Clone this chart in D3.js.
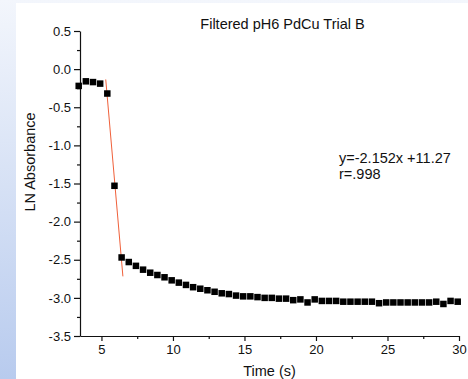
<!DOCTYPE html>
<html>
<head>
<meta charset="utf-8">
<script src="https://cdn.jsdelivr.net/npm/d3@7"></script>
<style>
  html, body { margin: 0; padding: 0; }
  body { width: 468px; height: 379px; overflow: hidden; }
  text { font-family: "Liberation Sans", Arial, sans-serif; fill: #111; }
</style>
</head>
<body>
<main></main>
<script>
// time (s) of each reading
const times = [3.41, 3.91, 4.41, 4.91, 5.41, 5.91, 6.41, 6.91, 7.41, 7.91,
  8.41, 8.91, 9.41, 9.91, 10.41, 10.91, 11.41, 11.91, 12.41, 12.91,
  13.41, 13.91, 14.41, 14.91, 15.41, 15.91, 16.41, 16.91, 17.41, 17.91,
  18.41, 18.91, 19.41, 19.91, 20.41, 20.91, 21.41, 21.91, 22.41, 22.91,
  23.41, 23.91, 24.41, 24.91, 25.41, 25.91, 26.41, 26.91, 27.41, 27.91,
  28.41, 28.91, 29.41, 29.91];

// ln absorbance
const lnAbs = [-0.22, -0.16, -0.17, -0.19, -0.32, -1.53, -2.47, -2.53, -2.58, -2.63,
  -2.67, -2.70, -2.73, -2.77, -2.80, -2.83, -2.86, -2.88, -2.90, -2.92,
  -2.94, -2.95, -2.97, -2.98, -2.98, -2.99, -3.00, -3.00, -3.01, -3.01,
  -3.03, -3.02, -3.06, -3.02, -3.04, -3.04, -3.04, -3.05, -3.05, -3.05,
  -3.05, -3.05, -3.07, -3.06, -3.06, -3.06, -3.06, -3.06, -3.06, -3.06,
  -3.05, -3.08, -3.04, -3.05];

// linear fit over the drop
const fitSlope = -2.152, fitIntercept = 11.27;
const fitRange = [5.3, 6.5];

const xTicks = [5, 10, 15, 20, 25, 30];
const xMinor = [7.5, 12.5, 17.5, 22.5, 27.5];
const yTicks = [0.5, 0.0, -0.5, -1.0, -1.5, -2.0, -2.5, -3.0, -3.5];
const yMinor = [0.25, -0.25, -0.75, -1.25, -1.75, -2.25, -2.75, -3.25];

const w = 468, h = 379;

const svg = d3.select("main").append("svg")
  .attr("width", w)
  .attr("height", h)
  .style("display", "block");

// slide background
const grad = svg.append("defs").append("linearGradient")
  .attr("id", "bg")
  .attr("x1", 0).attr("y1", 0).attr("x2", 0).attr("y2", 1);
grad.append("stop").attr("offset", 0).attr("stop-color", "#f3f6fc");
grad.append("stop").attr("offset", 1).attr("stop-color", "#b8cbee");

svg.append("rect").attr("width", w).attr("height", h).attr("fill", "url(#bg)");
svg.append("rect").attr("x", 16).attr("y", 3)
  .attr("width", w - 16).attr("height", h - 3).attr("fill", "#fff");

const xScale = d3.scaleLinear().domain([3.5, 30]).range([80, 459]);
const yScale = d3.scaleLinear().domain([-3.5, 0.5]).range([336, 31]);

const fmt = (d) => d.toFixed(1);

// x axis
const xAxis = svg.append("g")
  .attr("transform", "translate(0,336)")
  .call(d3.axisBottom(xScale).tickValues(xTicks).tickSize(5).tickPadding(4).tickSizeOuter(0));
svg.append("g")
  .attr("transform", "translate(0,336)")
  .call(d3.axisBottom(xScale).tickValues(xMinor).tickSize(3).tickFormat("").tickSizeOuter(0))
  .select(".domain").remove();

// y axis
const yAxis = svg.append("g")
  .attr("transform", "translate(80,0)")
  .call(d3.axisLeft(yScale).tickValues(yTicks).tickFormat(fmt).tickSize(6).tickPadding(3).tickSizeOuter(0));
svg.append("g")
  .attr("transform", "translate(80,0)")
  .call(d3.axisLeft(yScale).tickValues(yMinor).tickSize(3).tickFormat("").tickSizeOuter(0))
  .select(".domain").remove();

svg.selectAll(".domain, .tick line")
  .attr("stroke", "#111")
  .attr("stroke-width", 1.2);
svg.selectAll(".tick text")
  .style("font-size", "13px")
  .style("font-family", "Liberation Sans, Arial, sans-serif")
  .attr("fill", "#111");

// fit line
svg.append("line")
  .attr("x1", xScale(fitRange[0]))
  .attr("y1", yScale(fitSlope * fitRange[0] + fitIntercept))
  .attr("x2", xScale(fitRange[1]))
  .attr("y2", yScale(fitSlope * fitRange[1] + fitIntercept))
  .attr("stroke", "#f0603a")
  .attr("stroke-width", 1);

// points
const s = 6.5;
svg.selectAll("rect.pt")
  .data(times.map((t, i) => ({t: t, v: lnAbs[i]})))
  .enter()
  .append("rect")
  .attr("class", "pt")
  .attr("x", (d) => xScale(d.t) - s / 2)
  .attr("y", (d) => yScale(d.v) - s / 2)
  .attr("width", s)
  .attr("height", s)
  .attr("fill", "#000");

// labels
svg.append("text")
  .attr("x", 282.5)
  .attr("y", 28.5)
  .attr("text-anchor", "middle")
  .style("font-size", "14.5px")
  .text("Filtered pH6 PdCu Trial B");

svg.append("text")
  .attr("x", 269.5)
  .attr("y", 376)
  .attr("text-anchor", "middle")
  .style("font-size", "14.5px")
  .text("Time (s)");

svg.append("text")
  .attr("transform", "translate(35,162) rotate(-90)")
  .attr("text-anchor", "middle")
  .style("font-size", "14.5px")
  .text("LN Absorbance");

svg.append("text")
  .attr("x", 339)
  .attr("y", 163)
  .style("font-size", "14.5px")
  .text("y=-2.152x +11.27");
svg.append("text")
  .attr("x", 339)
  .attr("y", 179)
  .style("font-size", "14.5px")
  .text("r=.998");
</script>
</body>
</html>
